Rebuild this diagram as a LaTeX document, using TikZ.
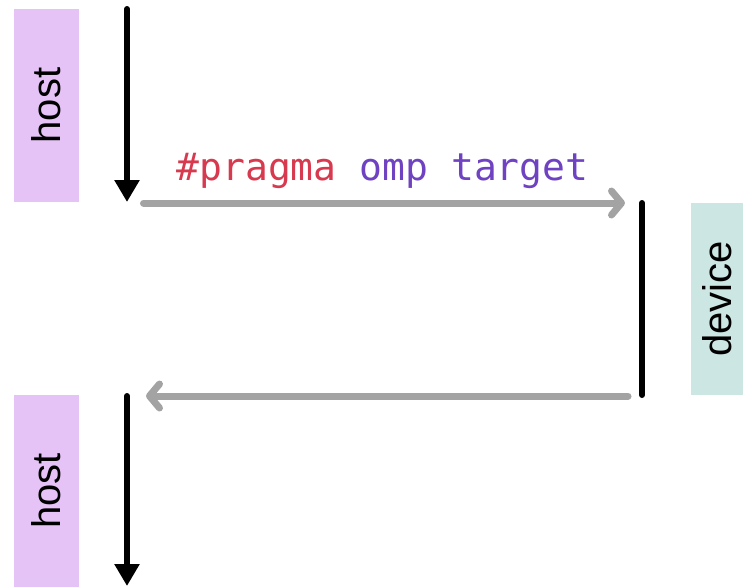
\documentclass[tikz,border=0pt]{standalone}
\usepackage{fontspec}
\setmainfont{Liberation Sans}
\setmonofont{DejaVu Sans Mono}
\usetikzlibrary{arrows.meta}
\definecolor{hostc}{HTML}{E6C3F7}
\definecolor{devc}{HTML}{CCE6E4}
\definecolor{pragmared}{HTML}{D73A4F}
\definecolor{omppurple}{HTML}{6F42C1}
\definecolor{flowgray}{HTML}{A3A3A3}
\tikzset{
  rolebox/.style={rotate=90, inner sep=0pt, font=\fontsize{40}{48}\selectfont},
  blackflow/.style={line width=6pt, line cap=round, -{Triangle[width=24pt,length=22pt]}},
  blackbar/.style={line width=6pt, line cap=round},
  grayflow/.style={line width=7pt, draw=flowgray, line cap=round, -{Straight Barb[length=10pt,width=24pt,line cap=round,line join=round]}},
}
\begin{document}
\begin{tikzpicture}[x=1pt,y=-1pt]
\useasboundingbox (0,0) rectangle (743,587);
% role boxes
\node[rolebox, fill=hostc, minimum width=193pt, minimum height=65pt] (host1) at (46.5,105.5) {host};
\node[rolebox, fill=hostc, minimum width=192pt, minimum height=65pt] (host2) at (46.5,491) {host};
\node[rolebox, fill=devc, minimum width=192pt, minimum height=53pt] (dev) at (717,299) {device};
% coordinates
\coordinate (h1s) at (127,9);
\coordinate (h1e) at (127,202);
\coordinate (go1) at (143.5,203);
\coordinate (go2) at (625,203);
\coordinate (d1) at (642,203);
\coordinate (d2) at (642,395);
\coordinate (back1) at (628,396);
\coordinate (back2) at (146,396);
\coordinate (h2s) at (127,396);
\coordinate (h2e) at (127,586);
% flows
\draw[blackflow] (h1s) -- (h1e);
\draw[grayflow] (go1) -- (go2);
\draw[blackbar] (d1) -- (d2);
\draw[grayflow] (back1) -- (back2);
\draw[blackflow] (h2s) -- (h2e);
% label
\node[anchor=base, inner sep=0pt, font=\ttfamily\fontsize{38}{46}\selectfont] (pragma) at (382.5,180) {\textcolor{pragmared}{\#pragma} \textcolor{omppurple}{omp target}};
\end{tikzpicture}
\end{document}
